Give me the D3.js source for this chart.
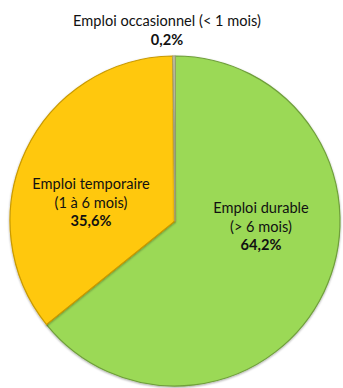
<!DOCTYPE html>
<html>
<head>
<meta charset="utf-8">
<script src="https://cdn.jsdelivr.net/npm/d3@7"></script>
<style>
  html, body { margin: 0; padding: 0; background: #ffffff; }
  svg { display: block; }
  text { font-family: "Lato", "Open Sans", sans-serif; fill: #111; }
</style>
</head>
<body>
<svg id="chart" width="343" height="388"></svg>
<script>
// Répartition des emplois par durée
const categories = ["Emploi durable", "Emploi temporaire", "Emploi occasionnel"];
const sublabels  = ["(> 6 mois)", "(1 à 6 mois)", "(< 1 mois)"];
const values     = [64.2, 35.6, 0.2];
const valueLabels = ["64,2%", "35,6%", "0,2%"];

const fills   = ["#9bd957", "#ffc80a", "#d9d9c0"];
const strokes = ["#6f9f3a", "#c99a00", "#a0a080"];

const width = 343, height = 388;
const cx = 175, cy = 221, radius = 165;

const svg = d3.select("#chart");

const defs = svg.append("defs");
const shadow = defs.append("filter").attr("id", "soft").attr("x", "-10%").attr("y", "-10%")
  .attr("width", "120%").attr("height", "120%");
shadow.append("feDropShadow").attr("dx", 0).attr("dy", 1).attr("stdDeviation", 0.8)
  .attr("flood-color", "#000").attr("flood-opacity", 0.35);

const pie = d3.pie().sort(null).value(d => d)(values);
const arc = d3.arc().innerRadius(0).outerRadius(radius);

const g = svg.append("g").attr("transform", `translate(${cx},${cy})`);

g.selectAll("path.slice")
  .data(pie)
  .join("path")
  .attr("class", "slice")
  .attr("d", arc)
  .attr("fill", (d, i) => fills[i])
  .attr("stroke", (d, i) => strokes[i])
  .attr("stroke-width", 1.2)
  .attr("stroke-linejoin", "round")
  .attr("filter", "url(#soft)");

// Label anchors (centre of each text block)
const labelPos = [
  { x: 261, y: 208, inline: false },
  { x: 91,  y: 184, inline: false },
  { x: 167, y: 21,  inline: true }
];
const lineH = 18.5;
const fontSize = 14.6;

labelPos.forEach((p, i) => {
  const t = svg.append("text")
    .attr("text-anchor", "middle")
    .attr("font-size", fontSize);
  if (p.inline) {
    t.append("tspan").attr("x", p.x).attr("y", p.y).attr("dy", "0.35em")
      .text(categories[i] + " " + sublabels[i]);
    t.append("tspan").attr("x", p.x).attr("y", p.y + lineH).attr("dy", "0.35em")
      .attr("font-weight", "bold").text(valueLabels[i]);
  } else {
    t.append("tspan").attr("x", p.x).attr("y", p.y).attr("dy", "0.35em").text(categories[i]);
    t.append("tspan").attr("x", p.x).attr("y", p.y + lineH).attr("dy", "0.35em").text(sublabels[i]);
    t.append("tspan").attr("x", p.x).attr("y", p.y + 2 * lineH).attr("dy", "0.35em")
      .attr("font-weight", "bold").text(valueLabels[i]);
  }
});
</script>
</body>
</html>
